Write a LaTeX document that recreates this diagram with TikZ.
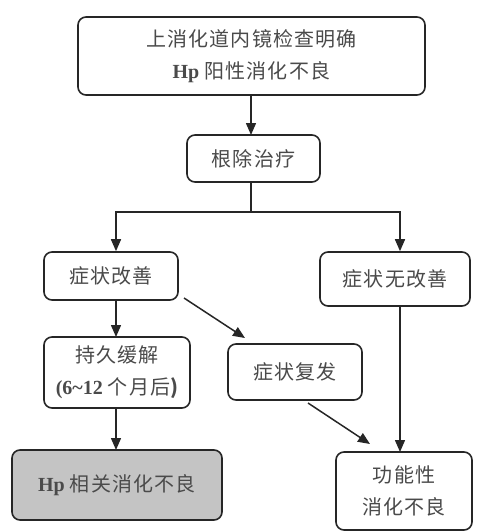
\documentclass[tikz,border=0pt]{standalone}
\usepackage{fontspec}
\setmainfont{Liberation Serif}
\newfontfamily\cjk{Noto Sans CJK SC}[LetterSpace=6]
\usetikzlibrary{arrows.meta}
\definecolor{txt}{HTML}{4A4A4A}
\definecolor{graybox}{HTML}{C4C4C4}
\tikzset{
  box/.style={draw=black!85, line width=1.6pt, rounded corners=8pt, fill=white, inner sep=0pt, text=txt, align=center, font=\fontsize{20}{32}\selectfont},
  arr/.style={line width=1.5pt, draw=black!85, -{Triangle[length=12pt,width=10pt]}},
  ln/.style={line width=1.5pt, draw=black!85}
}
\begin{document}
\begin{tikzpicture}[x=1pt,y=-1pt]
\useasboundingbox (0,0) rectangle (485,531);
\node[box, minimum width=347pt, minimum height=78pt] (top) at (251.5,56) {\cjk 上消化道内镜检查明确\\{\bfseries Hp} \cjk 阳性消化不良};
\node[box, minimum width=133pt, minimum height=47pt] (erad) at (253.5,158.5) {\cjk 根除治疗};
\node[box, minimum width=134pt, minimum height=48pt] (imp) at (111,276) {\cjk 症状改善};
\node[box, minimum width=150pt, minimum height=54pt] (noimp) at (395,279) {\cjk 症状无改善};
\node[box, minimum width=146pt, minimum height=71pt] (rem) at (117,372.5) {\cjk 持久缓解\\{\bfseries(6\textasciitilde12} \cjk 个月后{\bfseries)}};
\node[box, minimum width=134pt, minimum height=56pt] (rel) at (295,372) {\cjk 症状复发};
\node[box, fill=graybox, minimum width=210pt, minimum height=70pt] (hp) at (117,485) {{\bfseries Hp} \cjk 相关消化不良};
\node[box, minimum width=136pt, minimum height=78pt] (fd) at (404,491) {\cjk 功能性\\\cjk 消化不良};
\coordinate (split) at (251,212);
\draw[arr] (251,95) -- (251,135);
\draw[ln] (erad.south -| split) -- (split);
\draw[arr] (split) -| (imp.north -| 116,0);
\draw[arr] (split) -| (noimp.north -| 400,0);
\draw[arr] (116,300) -- (116,337);
\draw[arr] (184,298) -- (245,338);
\draw[arr] (116,408) -- (116,450);
\draw[arr] (400,306) -- (400,452);
\draw[arr] (308,403) -- (370,444);
\end{tikzpicture}
\end{document}
